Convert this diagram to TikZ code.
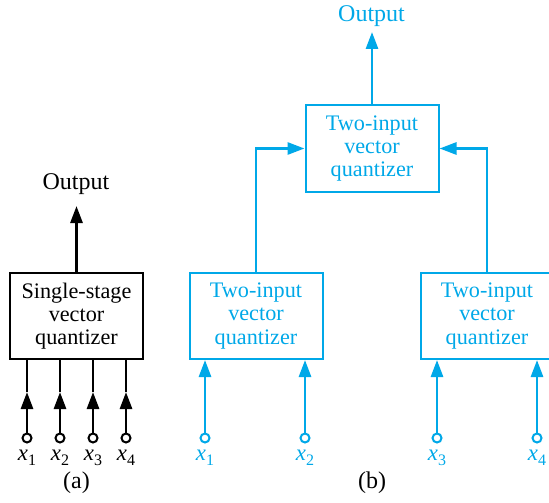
\documentclass[tikz,border=0pt]{standalone}
\usepackage{fontspec}
\setmainfont{Liberation Serif}
\usetikzlibrary{arrows.meta}
\definecolor{qblue}{RGB}{0,168,232}
\newcommand{\xsub}[1]{\textit{x}\raisebox{-0.55ex}{\footnotesize #1}}
\tikzset{
  qbox/.style={draw,line width=1pt,minimum width=66.5pt,minimum height=43pt,align=center,inner sep=0pt,font=\rmfamily\fontsize{11.1}{11.6}\selectfont},
  wire/.style={line width=1.4pt},
  headarrow/.style={-{Triangle[length=8.5pt,width=6pt]}},
  port/.style={circle,draw,fill=white,line width=1pt,inner sep=0pt,minimum size=4.5pt},
  lbl/.style={inner sep=0pt,font=\rmfamily\fontsize{11.4}{12}\selectfont},
  captext/.style={inner sep=0pt,font=\rmfamily\fontsize{12}{13}\selectfont}
}
\begin{document}
\begin{tikzpicture}[x=0.5pt,y=-0.5pt]
\useasboundingbox (0,0) rectangle (549,502);
% (a) single stage
\node[qbox] (ssq) at (76.5,316) {Single-stage\\vector\\quantizer};
\node[captext] (outa) at (76,184) {Output};
\coordinate (outatip) at (76.5,206);
\draw[wire,headarrow] (ssq.north) -- (outatip);
\foreach \i/\xx in {1/27,2/60,3/93,4/126} {
  \node[port] (pa\i) at (\xx,438) {};
  \node[lbl,anchor=base] (la\i) at (\xx,460) {\xsub{\i}};
  \coordinate (ma\i) at (\xx,392);
  \draw[wire,headarrow] (pa\i) -- (ma\i);
  \draw[wire] (ma\i) -- (ssq.south -| pa\i);
}
\node[captext] (capa) at (76.5,483) {(a)};
% (b) two stage, blue
\begin{scope}[qblue]
\node[qbox] (tq) at (372,148.5) {Two-input\\vector\\quantizer};
\node[qbox] (lq) at (256,316) {Two-input\\vector\\quantizer};
\node[qbox] (rq) at (487,316) {Two-input\\vector\\quantizer};
\node[captext] (outb) at (371.5,16) {Output};
\coordinate (outbtip) at (372,32);
\draw[wire,headarrow] (tq.north) -- (outbtip);
\draw[wire,headarrow] (lq.north) |- (tq.west);
\draw[wire,headarrow] (rq.north) |- (tq.east);
\foreach \i/\xx/\bx in {1/205/lq,2/305/lq,3/437/rq,4/537/rq} {
  \node[port] (pb\i) at (\xx,438) {};
  \node[lbl,anchor=base] (lb\i) at (\xx,460) {\xsub{\i}};
  \draw[wire,headarrow] (pb\i) -- (\bx.south -| pb\i);
}
\end{scope}
\node[captext] (capb) at (372,483) {(b)};
\end{tikzpicture}
\end{document}
